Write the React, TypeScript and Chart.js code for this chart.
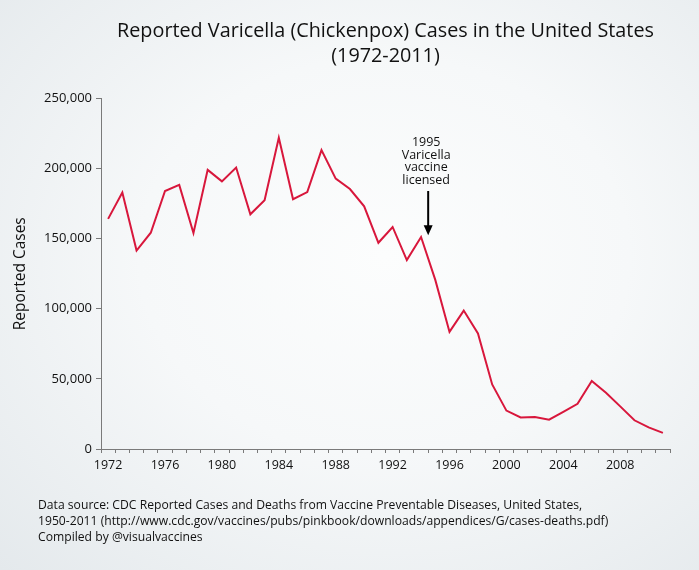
import React, { useEffect, useRef } from "react";
import { Chart, registerables } from "chart.js";

Chart.register(...registerables);

const years: string[] = [
  "1972","1973","1974","1975","1976","1977","1978","1979","1980","1981",
  "1982","1983","1984","1985","1986","1987","1988","1989","1990","1991",
  "1992","1993","1994","1995","1996","1997","1998","1999","2000","2001",
  "2002","2003","2004","2005","2006","2007","2008","2009","2010","2011",
];

const reportedCases: number[] = [
  164114, 182927, 141495, 154248, 183990, 188396, 154089, 199081, 190894, 200766,
  167423, 177462, 221983, 178162, 183243, 213196, 192857, 185441, 173099, 147076,
  158364, 134722, 151219, 120624, 83511, 98727, 82455, 46016, 27382, 22536,
  22841, 20948, 26500, 32242, 48445, 40146, 30386, 20480, 15427, 11500,
];

const yTicks: number[] = [0, 50000, 100000, 150000, 200000, 250000];

const titleLines: string[] = [
  "Reported Varicella (Chickenpox) Cases in the United States",
  "(1972-2011)",
];

const annotationLines: string[] = ["1995", "Varicella", "vaccine", "licensed"];
const annotationIndex = 22.5;
const arrowTopValue = 184000;
const arrowTipValue = 152500;

const footerLines: string[] = [
  "Data source: CDC Reported Cases and Deaths from Vaccine Preventable Diseases, United States,",
  "1950-2011 (http://www.cdc.gov/vaccines/pubs/pinkbook/downloads/appendices/G/cases-deaths.pdf)",
  "Compiled by @visualvaccines",
];

const annotationPlugin = {
  id: "vaccineAnnotation",
  afterDatasetsDraw(chart: any) {
    const ctx = chart.ctx;
    const xs = chart.scales.x;
    const ys = chart.scales.y;
    const x = xs.getPixelForValue(annotationIndex);
    const yTop = ys.getPixelForValue(arrowTopValue);
    const yTip = ys.getPixelForValue(arrowTipValue);
    ctx.save();
    ctx.strokeStyle = "#000";
    ctx.fillStyle = "#000";
    ctx.lineWidth = 2;
    ctx.beginPath();
    ctx.moveTo(x, yTop);
    ctx.lineTo(x, yTip - 8);
    ctx.stroke();
    ctx.beginPath();
    ctx.moveTo(x - 4.5, yTip - 10);
    ctx.lineTo(x + 4.5, yTip - 10);
    ctx.lineTo(x, yTip);
    ctx.closePath();
    ctx.fill();
    ctx.font = "12.5px 'Open Sans'";
    ctx.textAlign = "center";
    ctx.textBaseline = "middle";
    ctx.fillStyle = "#111";
    const lh = 12.5;
    const n = annotationLines.length;
    annotationLines.forEach((t, i) => {
      ctx.fillText(t, x - 2, yTop - 11 - (n - 1 - i) * lh);
    });
    ctx.restore();
  },
};

export default function App() {
  const ref = useRef<HTMLCanvasElement | null>(null);

  useEffect(() => {
    if (!ref.current) return;
    const chart = new Chart(ref.current, {
      type: "line",
      data: {
        labels: years,
        datasets: [
          {
            label: "Reported Cases",
            data: reportedCases,
            borderColor: "#d8173c",
            borderWidth: 2,
            pointRadius: 0,
            tension: 0,
            fill: false,
          },
        ],
      },
      options: {
        animation: false,
        responsive: false,
        layout: { padding: { left: 11, right: 29, top: 0, bottom: 91 } },
        plugins: {
          legend: { display: false },
          tooltip: { enabled: false },
          title: {
            display: true,
            text: titleLines,
            fullSize: false,
            color: "#111",
            font: { family: "'Open Sans'", size: 19.8, weight: "normal", lineHeight: 1.3 },
            padding: { top: 18, bottom: 29 },
          },
        },
        scales: {
          x: {
            type: "category",
            offset: true,
            grid: {
              offset: true,
              drawOnChartArea: false,
              drawTicks: true,
              tickLength: 4,
              color: "#7a7a7a",
              lineWidth: 1,
            },
            border: { display: true, color: "#7a7a7a", width: 1 },
            ticks: {
              autoSkip: false,
              maxRotation: 0,
              minRotation: 0,
              color: "#111",
              padding: 5,
              font: { family: "'Open Sans'", size: 12.5 },
              callback: (_v: any, i: number) => (i % 4 === 0 ? years[i] : ""),
            },
            afterFit: (s: any) => {
              s.height = 30;
            },
          },
          y: {
            min: 0,
            max: 250000,
            afterBuildTicks: (s: any) => {
              s.ticks = yTicks.map((v) => ({ value: v }));
            },
            grid: {
              drawOnChartArea: false,
              drawTicks: true,
              tickLength: 5,
              color: "#7a7a7a",
              lineWidth: 1,
            },
            border: { display: true, color: "#7a7a7a", width: 1 },
            ticks: {
              color: "#111",
              padding: 4,
              font: { family: "'Open Sans'", size: 13 },
              callback: (v: any) => Number(v).toLocaleString("en-US"),
            },
            title: {
              display: true,
              text: "Reported Cases",
              color: "#111",
              font: { family: "'Open Sans'", size: 15.5 },
              padding: { top: 0, bottom: 0 },
            },
            afterFit: (s: any) => {
              s.width = 90;
            },
          },
        },
      },
      plugins: [annotationPlugin],
    });
    return () => chart.destroy();
  }, []);

  return (
    <div
      style={{
        position: "absolute",
        left: 0,
        top: 0,
        width: 699,
        height: 570,
        overflow: "hidden",
        background:
          "radial-gradient(ellipse at 55% 45%, #fcfdfd 0%, #f6f8f9 45%, #e4e9ec 100%)",
      }}
    >
      <canvas ref={ref} width={699} height={570} style={{ display: "block" }} />
      <div
        style={{
          position: "absolute",
          left: 38,
          top: 496,
          fontFamily: "'Open Sans', sans-serif",
          fontSize: 13,
          lineHeight: "16px",
          color: "#111",
          whiteSpace: "nowrap",
          transform: "scaleX(0.935)",
          transformOrigin: "0 0",
        }}
      >
        {footerLines.map((l, i) => (
          <div key={i}>{l}</div>
        ))}
      </div>
    </div>
  );
}
